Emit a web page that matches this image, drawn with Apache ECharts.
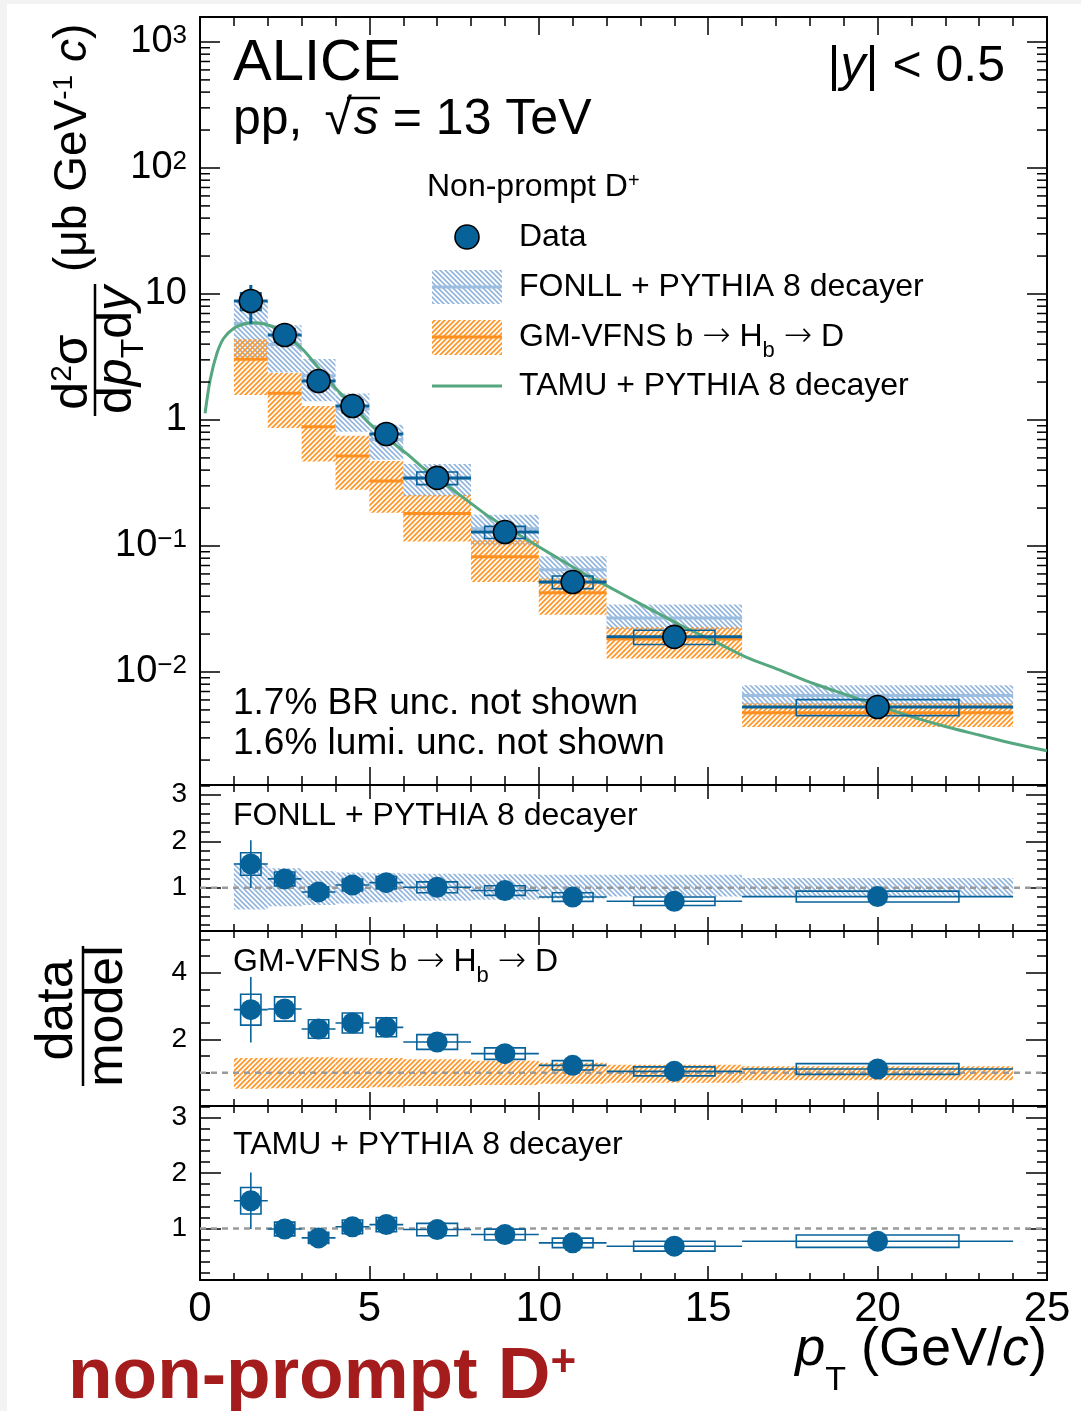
<!DOCTYPE html>
<html>
<head>
<meta charset="utf-8">
<script src="https://cdn.jsdelivr.net/npm/echarts@6/dist/echarts.min.js"></script>
<style>
  html, body { margin: 0; padding: 0; background: #fff; }
  #chart { width: 1081px; height: 1411px; }
</style>
</head>
<body>
<div id="chart"></div>
<script>
// pT bins (GeV/c)
const ptLow = [1, 2, 3, 4, 5, 6, 8, 10, 12, 16];
const ptHigh = [2, 3, 4, 5, 6, 8, 10, 12, 16, 24];
const ptCenter = [1.5, 2.5, 3.5, 4.5, 5.5, 7, 9, 11, 14, 20];

// measured cross section (ub GeV^-1 c) and relative uncertainties
const dataXsec = [8.8, 4.73, 2.04, 1.29, 0.774, 0.347, 0.129, 0.0518, 0.0190, 0.00527];
const statRel = [0.34, 0.08, 0.07, 0.07, 0.08, 0.05, 0.05, 0.06, 0.07, 0.07];
const systRel = [0.16, 0.125, 0.12, 0.12, 0.12, 0.115, 0.11, 0.115, 0.13, 0.145];

// FONLL + PYTHIA 8 decayer
const fonllCentral = [5.83, 3.97, 2.24, 1.22, 0.70, 0.344, 0.137, 0.0648, 0.0268, 0.0065];
const fonllRelUp = [1.53, 1.42, 1.36, 1.33, 1.31, 1.30, 1.29, 1.28, 1.28, 1.21];
const fonllRelLow = [0.53, 0.60, 0.63, 0.66, 0.69, 0.72, 0.74, 0.77, 0.81, 0.81];

// GM-VFNS
const gmCentral = [3.04, 1.63, 0.883, 0.518, 0.328, 0.181, 0.0822, 0.0425, 0.0183, 0.00475];
const gmRelUp = [1.44, 1.45, 1.46, 1.45, 1.44, 1.40, 1.36, 1.30, 1.24, 1.19];
const gmRelLow = [0.52, 0.53, 0.53, 0.54, 0.56, 0.60, 0.63, 0.67, 0.70, 0.77];

// TAMU curve
const tamuPt = [0.15, 0.3, 0.5, 0.7, 1.0, 1.3, 1.55, 1.9, 2.25, 2.65, 3.05, 3.55, 4.05, 4.55, 5.0, 5.6,
  6.1, 6.6, 7.2, 7.6, 8.1, 8.6, 9.5, 10.5, 11.5, 12.0, 13.0, 14.2, 15.2, 16.1, 17.1, 18.1, 19.1,
  20.1, 21.0, 22.0, 23.0, 24.0, 25.0];
const tamuXsec = [1.13, 2.08, 3.38, 4.45, 5.34, 5.78, 5.92, 5.78, 5.34, 4.45, 3.59, 2.49, 1.73, 1.27, 0.94, 0.69,
  0.54, 0.414, 0.314, 0.262, 0.208, 0.166, 0.119, 0.082, 0.057, 0.0484, 0.0347, 0.0234, 0.0174, 0.0132, 0.0104, 0.0081, 0.00657,
  0.00531, 0.00442, 0.00369, 0.00316, 0.00271, 0.00237];

// data / model
const ratioFonll = [1.51, 1.19, 0.91, 1.06, 1.11, 1.01, 0.94, 0.80, 0.71, 0.81];
const ratioGm = [2.89, 2.91, 2.31, 2.49, 2.36, 1.92, 1.57, 1.22, 1.04, 1.11];
const ratioTamu = [1.50, 0.99, 0.83, 1.03, 1.07, 0.98, 0.89, 0.74, 0.68, 0.77];
const unityLine = [[0, 1], [25, 1]];

const FONT = 'Liberation Sans';
const BLUE = '#08629a';
const GREEN = '#55a77f';
const Y_MIN = 0.001268, Y_MAX = 1578;

function hatch(color, dir, size, lw) {
  const c = document.createElement('canvas');
  c.width = size; c.height = size;
  const ctx = c.getContext('2d');
  ctx.strokeStyle = color; ctx.lineWidth = lw;
  ctx.beginPath();
  if (dir === '/') {
    ctx.moveTo(-1, size + 1); ctx.lineTo(size + 1, -1);
    ctx.moveTo(-1, 1); ctx.lineTo(1, -1);
    ctx.moveTo(size - 1, size + 1); ctx.lineTo(size + 1, size - 1);
  } else {
    ctx.moveTo(-1, -1); ctx.lineTo(size + 1, size + 1);
    ctx.moveTo(size - 1, -1); ctx.lineTo(size + 1, 1);
    ctx.moveTo(-1, size - 1); ctx.lineTo(1, size + 1);
  }
  ctx.stroke();
  return {image: c, repeat: 'repeat'};
}
const blueHatch = hatch('#92b5de', '\\', 5, 1.6);
const orangeHatch = hatch('#ff982a', '/', 5, 1.8);

function bandItem(pattern, lineColor, lineW) {
  return function (params, api) {
    const a = api.coord([api.value(0), api.value(3)]);
    const b = api.coord([api.value(1), api.value(2)]);
    const children = [{type: 'rect', shape: {x: a[0], y: a[1], width: b[0] - a[0], height: b[1] - a[1]},
      style: {fill: pattern}}];
    if (lineColor) {
      const c = api.coord([api.value(0), api.value(4)]);
      children.push({type: 'line', shape: {x1: a[0], y1: c[1], x2: b[0], y2: c[1]},
        style: {stroke: lineColor, lineWidth: lineW}});
    }
    return {type: 'group', children};
  };
}

function errItem(lw, boxLw, statLw) {
  return function (params, api) {
    const x = api.value(0), y = api.value(1);
    const l = api.coord([api.value(2), y]), r = api.coord([api.value(3), y]);
    const s1 = api.coord([x, api.value(4)]), s2 = api.coord([x, api.value(5)]);
    const b1 = api.coord([x - api.value(8), api.value(7)]), b2 = api.coord([x + api.value(8), api.value(6)]);
    return {type: 'group', children: [
      {type: 'rect', shape: {x: b1[0], y: b1[1], width: b2[0] - b1[0], height: b2[1] - b1[1]},
        style: {fill: 'none', stroke: BLUE, lineWidth: boxLw}},
      {type: 'line', shape: {x1: l[0], y1: l[1], x2: r[0], y2: r[1]}, style: {stroke: BLUE, lineWidth: lw}},
      {type: 'line', shape: {x1: s1[0], y1: s1[1], x2: s2[0], y2: s2[1]}, style: {stroke: BLUE, lineWidth: statLw}}
    ]};
  };
}

function minorTickItem(len) {
  return function (params, api) {
    const p = api.coord([0, api.value(1)]);
    const cs = params.coordSys;
    return {type: 'group', children: [
      {type: 'line', shape: {x1: cs.x, y1: p[1], x2: cs.x + len, y2: p[1]}, style: {stroke: '#000', lineWidth: 1.5}},
      {type: 'line', shape: {x1: cs.x + cs.width - len, y1: p[1], x2: cs.x + cs.width, y2: p[1]}, style: {stroke: '#000', lineWidth: 1.5}}
    ]};
  };
}

const mainErrRows = ptCenter.map((x, i) => [x, dataXsec[i], ptLow[i], ptHigh[i],
  dataXsec[i] * (1 - statRel[i]), dataXsec[i] * (1 + statRel[i]),
  dataXsec[i] * (1 - systRel[i]), dataXsec[i] * (1 + systRel[i]), 0.3 * (ptHigh[i] - ptLow[i])]);
function ratioErrRows(ratio) {
  return ptCenter.map((x, i) => [x, ratio[i], ptLow[i], ptHigh[i],
    ratio[i] * (1 - statRel[i]), ratio[i] * (1 + statRel[i]),
    ratio[i] * (1 - systRel[i]), ratio[i] * (1 + systRel[i]), 0.3 * (ptHigh[i] - ptLow[i])]);
}
const fonllRows = ptLow.map((l, i) => [l, ptHigh[i], fonllCentral[i] * fonllRelLow[i], fonllCentral[i] * fonllRelUp[i], fonllCentral[i]]);
const gmRows = ptLow.map((l, i) => [l, ptHigh[i], gmCentral[i] * gmRelLow[i], gmCentral[i] * gmRelUp[i], gmCentral[i]]);
const fonllRatioRows = ptLow.map((l, i) => [l, ptHigh[i], fonllRelLow[i], fonllRelUp[i]]);
const gmRatioRows = ptLow.map((l, i) => [l, ptHigh[i], gmRelLow[i], gmRelUp[i]]);

const logMinor = [];
for (let e = -3; e <= 3; e++) {
  for (let m = 2; m <= 9; m++) {
    const v = m * Math.pow(10, e);
    if (v > Y_MIN && v < Y_MAX) logMinor.push([0, v]);
  }
}

const grids = [
  {left: 200, top: 17, width: 847, height: 768},
  {left: 200, top: 785, width: 847, height: 146},
  {left: 200, top: 931, width: 847, height: 175},
  {left: 200, top: 1106, width: 847, height: 174}
];

const line2 = {show: true, onZero: false, lineStyle: {color: '#000', width: 2}};

function xAxes(g, major, minor) {
  const base = {
    type: 'value', gridIndex: g, min: 0, max: 25, interval: 5,
    axisLine: line2,
    axisTick: {show: true, inside: true, length: major, lineStyle: {color: '#000', width: 1.5}},
    minorTick: {show: true, splitNumber: 5, length: minor, lineStyle: {color: '#000', width: 1.5}},
    splitLine: {show: false}
  };
  return [
    Object.assign({}, base, {position: 'bottom', axisLabel: {show: g === 3, margin: 8, fontSize: 42, color: '#000', fontFamily: FONT}}),
    Object.assign({}, base, {position: 'top', axisLabel: {show: false}})
  ];
}

function ratioYAxes(g, min, max, opts) {
  const base = Object.assign({
    type: 'value', gridIndex: g, min: min, max: max,
    axisLine: line2,
    axisTick: {show: true, inside: true, length: 21, lineStyle: {color: '#000', width: 1.5}},
    splitLine: {show: false}
  }, opts);
  return [
    Object.assign({}, base, {position: 'left', axisLabel: {show: true, margin: 13, fontSize: 28, color: '#000', fontFamily: FONT,
      showMinLabel: false,
      formatter: v => (v > 0.5 && Math.abs(v - Math.round(v)) < 1e-6) ? String(Math.round(v)) : ''}}),
    Object.assign({}, base, {position: 'right', axisLabel: {show: false}})
  ];
}

const mainY = {
  type: 'log', logBase: 10, gridIndex: 0, min: Y_MIN, max: Y_MAX,
  axisLine: line2,
  axisTick: {show: true, inside: true, length: 20, lineStyle: {color: '#000', width: 1.5}},
  splitLine: {show: false}
};

const subRich = {fontSize: 22, lineHeight: 10, verticalAlign: 'bottom', fontFamily: FONT};
const arrowRich = {fontSize: 34, fontWeight: 200, fontFamily: 'DejaVu Sans'};

const chart = echarts.init(document.getElementById('chart'));
chart.setOption({
  animation: false,
  backgroundColor: '#fff',
  textStyle: {fontFamily: FONT},
  grid: grids.map(g => Object.assign({outerBoundsMode: 'none', containLabel: false}, g)),
  xAxis: [].concat(xAxes(0, 18, 9), xAxes(1, 14, 7), xAxes(2, 14, 7), xAxes(3, 14, 7)),
  yAxis: [
    Object.assign({}, mainY, {position: 'left', axisLabel: {
      show: true, margin: 13, fontSize: 38, color: '#000', fontFamily: FONT,
      showMinLabel: false, showMaxLabel: false,
      formatter: v => {
        const lg = Math.log10(v), e = Math.round(lg);
        if (Math.abs(lg - e) > 1e-6) return '';
        if (e === 0) return '1';
        if (e === 1) return '10';
        return '10{s|' + (e < 0 ? '\u2212' + (-e) : e) + '}';
      },
      rich: {s: {fontSize: 26, lineHeight: 18, verticalAlign: 'top', fontFamily: FONT, color: '#000'}}
    }}),
    Object.assign({}, mainY, {position: 'right', axisLabel: {show: false}}),
    ...ratioYAxes(1, 0.07, 3.21, {splitNumber: 3, minorTick: {show: true, splitNumber: 5, length: 10, lineStyle: {color: '#000', width: 1.5}}}),
    ...ratioYAxes(2, 0, 5.25, {interval: 2, minorTick: {show: true, splitNumber: 4, length: 10, lineStyle: {color: '#000', width: 1.5}}}),
    ...ratioYAxes(3, 0.07, 3.21, {splitNumber: 3, minorTick: {show: true, splitNumber: 5, length: 10, lineStyle: {color: '#000', width: 1.5}}})
  ],
  series: [
    // main panel
    {type: 'custom', xAxisIndex: 0, yAxisIndex: 0, data: fonllRows, encode: {x: [0, 1], y: [2, 3, 4]},
      renderItem: bandItem(blueHatch, '#9bbde0', 3), z: 2},
    {type: 'custom', xAxisIndex: 0, yAxisIndex: 0, data: gmRows, encode: {x: [0, 1], y: [2, 3, 4]},
      renderItem: bandItem(orangeHatch, '#ff8f1f', 3), z: 2},
    {type: 'line', xAxisIndex: 0, yAxisIndex: 0, data: tamuPt.map((x, i) => [x, tamuXsec[i]]),
      symbol: 'none', smooth: 0.3, lineStyle: {color: GREEN, width: 3}, z: 3},
    {type: 'custom', xAxisIndex: 0, yAxisIndex: 0, data: mainErrRows, encode: {x: [0, 2, 3], y: [1, 4, 5, 6, 7]},
      renderItem: errItem(3, 1.6, 3), z: 4},
    {type: 'scatter', xAxisIndex: 0, yAxisIndex: 0, data: ptCenter.map((x, i) => [x, dataXsec[i]]),
      symbol: 'circle', symbolSize: 23, itemStyle: {color: BLUE, borderColor: '#000', borderWidth: 1.6, opacity: 1}, z: 5},
    {type: 'custom', xAxisIndex: 0, yAxisIndex: 0, data: logMinor, encode: {x: 0, y: 1},
      renderItem: minorTickItem(10), z: 6},

    // FONLL ratio
    {type: 'custom', xAxisIndex: 2, yAxisIndex: 2, data: fonllRatioRows, encode: {x: [0, 1], y: [2, 3]},
      renderItem: bandItem(blueHatch, null, 0), z: 2},
    {type: 'line', xAxisIndex: 2, yAxisIndex: 2, data: unityLine, symbol: 'none',
      lineStyle: {color: '#9a9a9a', width: 2.5, type: [6, 5]}, z: 3},
    {type: 'custom', xAxisIndex: 2, yAxisIndex: 2, data: ratioErrRows(ratioFonll), encode: {x: [0, 2, 3], y: [1, 4, 5, 6, 7]},
      renderItem: errItem(1.6, 1.6, 1.6), z: 4},
    {type: 'scatter', xAxisIndex: 2, yAxisIndex: 2, data: ptCenter.map((x, i) => [x, ratioFonll[i]]),
      symbol: 'circle', symbolSize: 21, itemStyle: {color: BLUE, opacity: 1}, z: 5},

    // GM-VFNS ratio
    {type: 'custom', xAxisIndex: 4, yAxisIndex: 4, data: gmRatioRows, encode: {x: [0, 1], y: [2, 3]},
      renderItem: bandItem(orangeHatch, null, 0), z: 2},
    {type: 'line', xAxisIndex: 4, yAxisIndex: 4, data: unityLine, symbol: 'none',
      lineStyle: {color: '#9a9a9a', width: 2.5, type: [6, 5]}, z: 3},
    {type: 'custom', xAxisIndex: 4, yAxisIndex: 4, data: ratioErrRows(ratioGm), encode: {x: [0, 2, 3], y: [1, 4, 5, 6, 7]},
      renderItem: errItem(1.6, 1.6, 1.6), z: 4},
    {type: 'scatter', xAxisIndex: 4, yAxisIndex: 4, data: ptCenter.map((x, i) => [x, ratioGm[i]]),
      symbol: 'circle', symbolSize: 21, itemStyle: {color: BLUE, opacity: 1}, z: 5},

    // TAMU ratio
    {type: 'line', xAxisIndex: 6, yAxisIndex: 6, data: unityLine, symbol: 'none',
      lineStyle: {color: '#9a9a9a', width: 2.5, type: [6, 5]}, z: 3},
    {type: 'custom', xAxisIndex: 6, yAxisIndex: 6, data: ratioErrRows(ratioTamu), encode: {x: [0, 2, 3], y: [1, 4, 5, 6, 7]},
      renderItem: errItem(1.6, 1.6, 1.6), z: 4},
    {type: 'scatter', xAxisIndex: 6, yAxisIndex: 6, data: ptCenter.map((x, i) => [x, ratioTamu[i]]),
      symbol: 'circle', symbolSize: 21, itemStyle: {color: BLUE, opacity: 1}, z: 5}
  ],
  graphic: [
    {type: 'rect', shape: {x: 0, y: 0, width: 7, height: 1411}, style: {fill: '#f3f3f3'}, silent: true},
    {type: 'rect', shape: {x: 0, y: 0, width: 1081, height: 4}, style: {fill: '#f3f3f3'}, silent: true},

    {type: 'text', x: 233, y: 64, style: {text: 'ALICE', fontSize: 58, fontFamily: FONT, fill: '#000', align: 'left', verticalAlign: 'middle'}},
    {type: 'text', x: 233, y: 120, style: {text: 'pp, {sq|\u221a}{it|s} = 13 TeV', fontSize: 50, fontFamily: FONT, fill: '#000', align: 'left', verticalAlign: 'middle',
      rich: {it: {fontSize: 50, fontStyle: 'italic', fontFamily: FONT}, sq: {fontSize: 50, fontFamily: FONT, padding: [0, 2, 0, 8]}}}},
    {type: 'line', shape: {x1: 347, y1: 98, x2: 380, y2: 98}, style: {stroke: '#000', lineWidth: 2.5}},
    {type: 'text', x: 1005, y: 67, style: {text: '|{it|y}| < 0.5', fontSize: 50, fontFamily: FONT, fill: '#000', align: 'right', verticalAlign: 'middle',
      rich: {it: {fontSize: 50, fontStyle: 'italic', fontFamily: FONT}}}},

    {type: 'text', x: 427, y: 187, style: {text: 'Non-prompt D{sup|+}', fontSize: 32, fontFamily: FONT, fill: '#000', align: 'left', verticalAlign: 'middle',
      rich: {sup: {fontSize: 20, lineHeight: 14, verticalAlign: 'top', fontFamily: FONT}}}},
    {type: 'circle', shape: {cx: 467, cy: 237, r: 12}, style: {fill: BLUE, stroke: '#000', lineWidth: 1.6}},
    {type: 'rect', shape: {x: 432, y: 270, width: 70, height: 34}, style: {fill: blueHatch}},
    {type: 'line', shape: {x1: 432, y1: 287, x2: 502, y2: 287}, style: {stroke: '#9bbde0', lineWidth: 3}},
    {type: 'rect', shape: {x: 432, y: 320, width: 70, height: 35}, style: {fill: orangeHatch}},
    {type: 'line', shape: {x1: 432, y1: 337, x2: 502, y2: 337}, style: {stroke: '#ff8f1f', lineWidth: 3}},
    {type: 'line', shape: {x1: 432, y1: 386, x2: 502, y2: 386}, style: {stroke: GREEN, lineWidth: 3}},
    {type: 'text', x: 519, y: 237, style: {text: 'Data', fontSize: 32, fontFamily: FONT, fill: '#000', align: 'left', verticalAlign: 'middle'}},
    {type: 'text', x: 519, y: 287, style: {text: 'FONLL + PYTHIA 8 decayer', fontSize: 32, fontFamily: FONT, fill: '#000', align: 'left', verticalAlign: 'middle'}},
    {type: 'text', x: 519, y: 337, style: {text: 'GM-VFNS b {ar|\u2192} H{sub|b} {ar|\u2192} D', fontSize: 32, lineHeight: 50, fontFamily: FONT, fill: '#000', align: 'left', verticalAlign: 'middle',
      rich: {sub: subRich, ar: arrowRich}}},
    {type: 'text', x: 519, y: 386, style: {text: 'TAMU + PYTHIA 8 decayer', fontSize: 32, fontFamily: FONT, fill: '#000', align: 'left', verticalAlign: 'middle'}},

    {type: 'text', x: 233, y: 704, style: {text: '1.7% BR unc. not shown', fontSize: 37, fontFamily: FONT, fill: '#000', align: 'left', verticalAlign: 'middle'}},
    {type: 'text', x: 233, y: 744, style: {text: '1.6% lumi. unc. not shown', fontSize: 37, fontFamily: FONT, fill: '#000', align: 'left', verticalAlign: 'middle'}},

    {type: 'text', x: 233, y: 816, style: {text: 'FONLL + PYTHIA 8 decayer', fontSize: 32, fontFamily: FONT, fill: '#000', align: 'left', verticalAlign: 'middle'}},
    {type: 'text', x: 233, y: 962, style: {text: 'GM-VFNS b {ar|\u2192} H{sub|b} {ar|\u2192} D', fontSize: 32, lineHeight: 50, fontFamily: FONT, fill: '#000', align: 'left', verticalAlign: 'middle',
      rich: {sub: subRich, ar: arrowRich}}},
    {type: 'text', x: 233, y: 1145, style: {text: 'TAMU + PYTHIA 8 decayer', fontSize: 32, fontFamily: FONT, fill: '#000', align: 'left', verticalAlign: 'middle'}},

    // y titles
    {type: 'text', x: 73, y: 272, rotation: Math.PI / 2, style: {text: '(\u03bcb GeV{sup|-1} {it|c})', fontSize: 46, fontFamily: FONT, fill: '#000',
      align: 'left', verticalAlign: 'middle',
      rich: {sup: {fontSize: 28, lineHeight: 18, verticalAlign: 'top', fontFamily: FONT}, it: {fontSize: 46, fontStyle: 'italic', fontFamily: FONT}}}},
    {type: 'text', x: 73, y: 372, rotation: Math.PI / 2, style: {text: 'd{sup|2}\u03c3', fontSize: 50, fontFamily: FONT, fill: '#000',
      align: 'center', verticalAlign: 'middle',
      rich: {sup: {fontSize: 30, lineHeight: 20, verticalAlign: 'top', fontFamily: FONT}}}},
    {type: 'line', shape: {x1: 95, y1: 284, x2: 95, y2: 416}, style: {stroke: '#000', lineWidth: 2.5}},
    {type: 'text', x: 117, y: 350, rotation: Math.PI / 2, style: {text: 'd{it|p}{sub|T}d{it|y}', fontSize: 50, lineHeight: 66, fontFamily: FONT, fill: '#000',
      align: 'center', verticalAlign: 'middle',
      rich: {it: {fontSize: 50, fontStyle: 'italic', fontFamily: FONT}, sub: {fontSize: 32, lineHeight: 14, verticalAlign: 'bottom', fontFamily: FONT}}}},

    {type: 'text', x: 58, y: 1010, rotation: Math.PI / 2, style: {text: 'data', fontSize: 52, fontFamily: FONT, fill: '#000', align: 'center', verticalAlign: 'middle'}},
    {type: 'line', shape: {x1: 83, y1: 946, x2: 83, y2: 1086}, style: {stroke: '#000', lineWidth: 2.5}},
    {type: 'text', x: 108, y: 1016, rotation: Math.PI / 2, style: {text: 'model', fontSize: 52, fontFamily: FONT, fill: '#000', align: 'center', verticalAlign: 'middle'}},

    // x title
    {type: 'text', x: 1047, y: 1350, style: {text: '{it|p}{sub|T} (GeV/{it|c})', fontSize: 54, lineHeight: 96, fontFamily: FONT, fill: '#000', align: 'right', verticalAlign: 'middle',
      rich: {it: {fontSize: 54, fontStyle: 'italic', fontFamily: FONT}, sub: {fontSize: 34, lineHeight: 16, verticalAlign: 'bottom', fontFamily: FONT}}}},

    {type: 'text', x: 68, y: 1378, style: {text: 'non-prompt D{sup|+}', fontSize: 73, fontWeight: 'bold', fontFamily: FONT, fill: '#a51c1c', align: 'left', verticalAlign: 'middle',
      rich: {sup: {fontSize: 44, fontWeight: 'bold', lineHeight: 26, verticalAlign: 'top', fontFamily: FONT, fill: '#a51c1c'}}}}
  ]
});
</script>
</body>
</html>
